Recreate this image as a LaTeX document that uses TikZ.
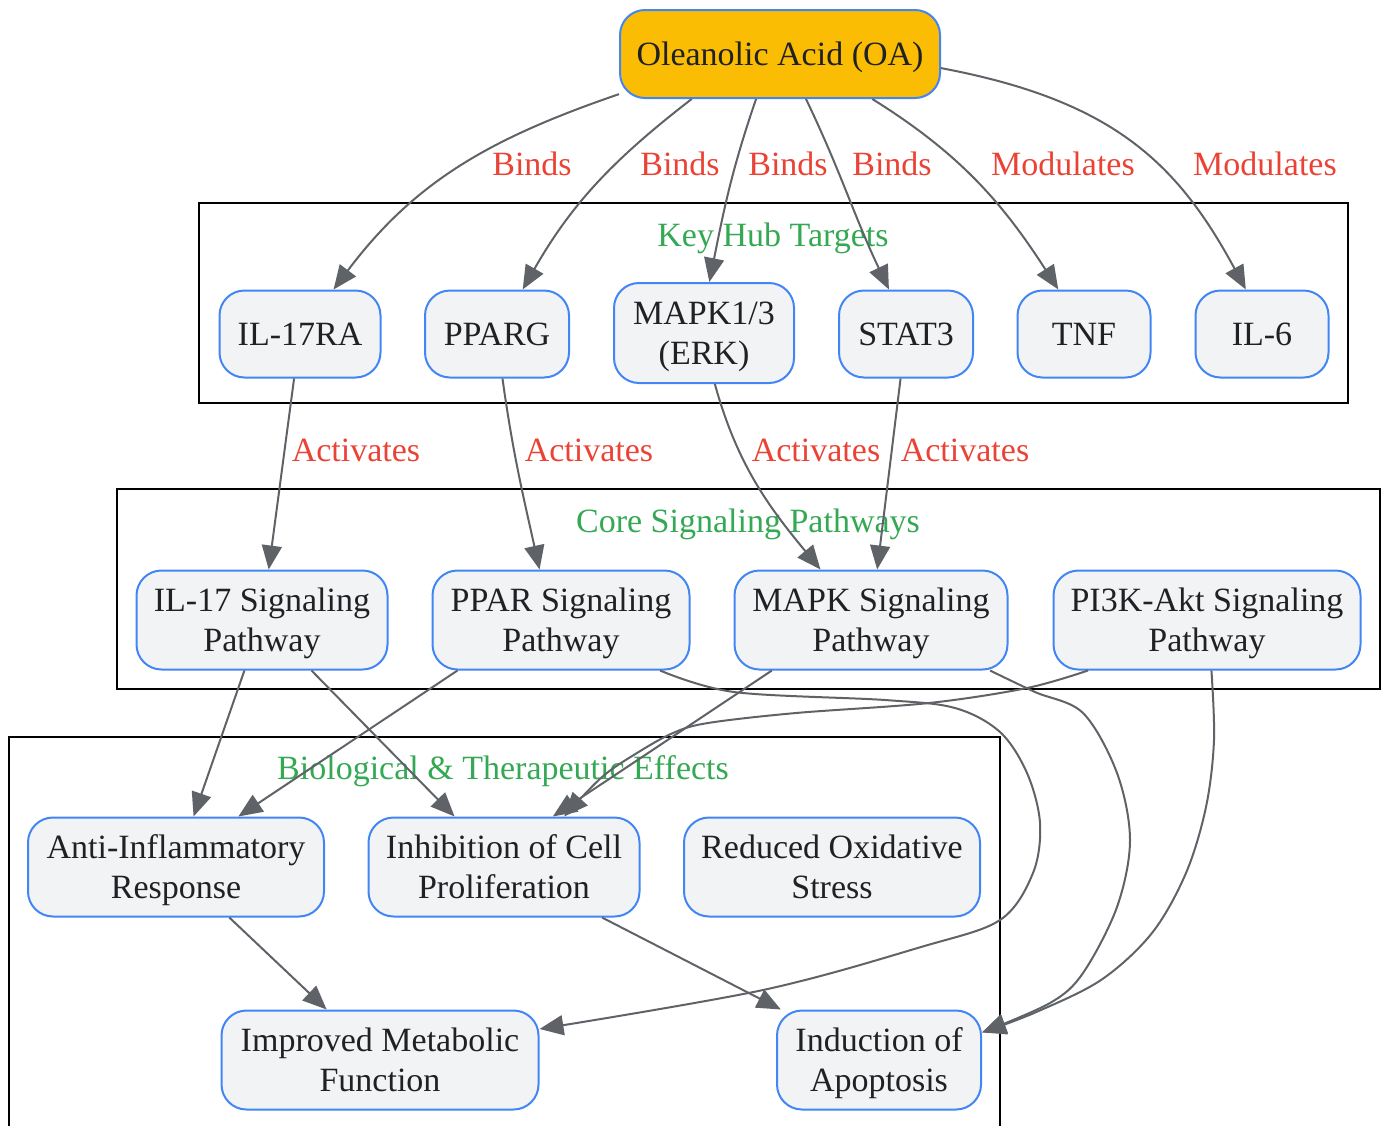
\documentclass[tikz,border=0pt]{standalone}
\usepackage{fontspec}
\setmainfont{Liberation Serif}
\usetikzlibrary{arrows.meta,calc}
\definecolor{oafill}{HTML}{FBBC04}
\definecolor{nodeblue}{HTML}{4285F4}
\definecolor{nodefill}{HTML}{F1F3F4}
\definecolor{edgegray}{HTML}{5F6368}
\definecolor{lblred}{HTML}{EA4335}
\definecolor{clgreen}{HTML}{34A853}
\definecolor{txtcol}{HTML}{202124}
\begin{document}
\begin{tikzpicture}[x=0.5pt,y=-0.5pt,
  every node/.style={font=\fontsize{17}{20}\selectfont, text depth=0pt},
  box/.style={draw=nodeblue, fill=nodefill, line width=1pt, rounded corners=12.5pt,
    align=center, inner sep=0pt, text=txtcol},
  oabox/.style={box, fill=oafill},
  edge/.style={draw=edgegray, line width=1pt, -{Triangle[length=12pt,width=10pt]}},
  lbl/.style={text=lblred, inner sep=1pt},
  ctitle/.style={text=clgreen, inner sep=1pt},
  cluster/.style={draw=black, line width=1pt}
]
\useasboundingbox (0,0) rectangle (1387,1125);

% clusters
\draw[cluster] (199,203) rectangle (1348,403);
\draw[cluster] (117,489) rectangle (1380,689);
\draw[cluster] (9,1127) -- (9,737) -- (1000,737) -- (1000,1127);
\node[ctitle] (t1) at (773,235) {Key Hub Targets};
\node[ctitle] (t2) at (748,521) {Core Signaling Pathways};
\node[ctitle] (t3) at (503,768) {Biological \& Therapeutic Effects};

% nodes
\node[oabox, minimum width=160pt, minimum height=44pt] (oa) at (780,54) {Oleanolic Acid (OA)};

\node[box, minimum width=80.5pt, minimum height=43.5pt] (il17ra) at (300,334) {IL-17RA};
\node[box, minimum width=72pt, minimum height=43.5pt] (pparg) at (497,334) {PPARG};
\node[box, minimum width=90pt, minimum height=50pt] (mapk13) at (704,333) {MAPK1/3\\(ERK)};
\node[box, minimum width=67pt, minimum height=43.5pt] (stat3) at (906,334) {STAT3};
\node[box, minimum width=66.5pt, minimum height=43.5pt] (tnf) at (1084,334) {TNF};
\node[box, minimum width=66.5pt, minimum height=43.5pt] (il6) at (1262,334) {IL-6};

\node[box, minimum width=125.5pt, minimum height=49.5pt] (il17sp) at (262,620) {IL-17 Signaling\\Pathway};
\node[box, minimum width=128.5pt, minimum height=49.5pt] (pparsp) at (561,620) {PPAR Signaling\\Pathway};
\node[box, minimum width=136.5pt, minimum height=49.5pt] (mapksp) at (871,620) {MAPK Signaling\\Pathway};
\node[box, minimum width=153.5pt, minimum height=49.5pt] (pi3k) at (1207,620) {PI3K-Akt Signaling\\Pathway};

\node[box, minimum width=148pt, minimum height=49.5pt] (antiinf) at (176,867) {Anti-Inflammatory\\Response};
\node[box, minimum width=135.5pt, minimum height=49.5pt] (inhib) at (504,867) {Inhibition of Cell\\Proliferation};
\node[box, minimum width=148pt, minimum height=49.5pt] (redox) at (832,867) {Reduced Oxidative\\Stress};
\node[box, minimum width=158.5pt, minimum height=49.5pt] (improved) at (380,1060) {Improved Metabolic\\Function};
\node[box, minimum width=102pt, minimum height=49.5pt] (apop) at (879,1060) {Induction of\\Apoptosis};

% OA edges
\draw[edge] (oa.194) .. controls (491,138) and (415,181) .. (il17ra.53);
\draw[edge] (oa.207) .. controls (614,159) and (572,203) .. (pparg.60);
\draw[edge] (oa.242) .. controls (732,169) and (724,209) .. (mapk13.84);
\draw[edge] (oa.300) .. controls (841,172) and (854,216) .. (stat3.111);
\draw[edge] (oa.334) .. controls (959,153) and (1002,202) .. (tnf.120);
\draw[edge] (oa.355) .. controls (1110,100) and (1176,160) .. (il6.110);

\node[lbl] (b1) at (532,164) {Binds};
\node[lbl] (b2) at (680,164) {Binds};
\node[lbl] (b3) at (788,164) {Binds};
\node[lbl] (b4) at (892,164) {Binds};
\node[lbl] (m1) at (1063,164) {Modulates};
\node[lbl] (m2) at (1265,164) {Modulates};

% activates
\draw[edge] (il17ra) -- (il17sp);
\draw[edge] (pparg.-83) .. controls (513,454) and (523,495) .. (pparsp.113);
\draw[edge] (mapk13.-78) .. controls (737,464) and (768,506) .. (mapksp.135);
\draw[edge] (stat3) -- (mapksp);

\node[lbl] (a1) at (356,450) {Activates};
\node[lbl] (a2) at (589,450) {Activates};
\node[lbl] (a3) at (816,450) {Activates};
\node[lbl] (a4) at (965,450) {Activates};

% effects
\draw[edge] (il17sp) -- (antiinf);
\draw[edge] (il17sp) -- (inhib);
\draw[edge] (pparsp.206.6) -- (antiinf.39);
\draw[edge] plot[smooth, tension=0.55] coordinates {(pparsp.-27) (734,692) (885,700) (955,708) (1000,732) (1027,773) (1040,823) (1033,873) (1000,920) (921,947) (763,990) (improved.11)};
\draw[edge] (mapksp.207) -- (inhib.46);
\draw[edge] plot[smooth, tension=0.55] coordinates {(pi3k.203) (1027,688) (929,703) (796,713) (708,723) (673,733) (637,753) (602,777) (inhib.40)};
\draw[edge] plot[smooth, tension=0.55] coordinates {(mapksp.-23) (1035,692) (1083,713) (1117,773) (1130,840) (1117,907) (1083,973) (1050,1003) (apop.15)};
\draw[edge] plot[smooth, tension=0.55] coordinates {(pi3k.-85) (1214,740) (1206,807) (1186,873) (1152,933) (1101,980) (1034,1013) (apop.15)};
\draw[edge] (antiinf) -- (improved);
\draw[edge] (inhib) -- (apop);
\end{tikzpicture}
\end{document}
